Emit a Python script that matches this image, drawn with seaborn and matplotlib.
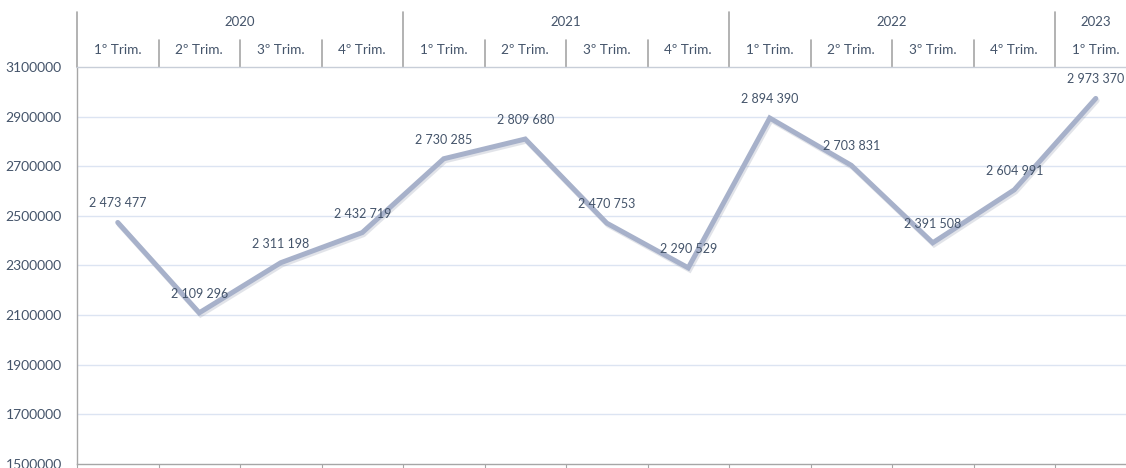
import matplotlib
matplotlib.use("Agg")
import matplotlib.pyplot as plt
import matplotlib.patheffects as pe
import numpy as np
import pandas as pd
import seaborn as sns

# Quarterly series, 2020 Q1 .. 2023 Q1
years = ["2020", "2021", "2022", "2023"]
quarters = ["1º Trim.", "2º Trim.", "3º Trim.", "4º Trim.",
            "1º Trim.", "2º Trim.", "3º Trim.", "4º Trim.",
            "1º Trim.", "2º Trim.", "3º Trim.", "4º Trim.",
            "1º Trim."]
quarters_per_year = [4, 4, 4, 1]
values = [2473477, 2109296, 2311198, 2432719,
          2730285, 2809680, 2470753, 2290529,
          2894390, 2703831, 2391508, 2604991,
          2973370]
y_ticks = [1500000, 1700000, 1900000, 2100000, 2300000,
           2500000, 2700000, 2900000, 3100000]

sns.set_theme(style="white")
plt.rcParams["font.family"] = ["Lato", "DejaVu Sans"]

TEXT = "#44546A"
LINE = "#A7B1CA"
GRID = "#DCE4F2"
AXIS = "#A6A6A6"

W, H, DPI = 1126, 468, 100
fig = plt.figure(figsize=(W / DPI, H / DPI), dpi=DPI)

# plot area in pixels: left 77, top 67, bottom 464, 81.5 px per quarter column
left_px, top_px, bottom_px, col_px = 77, 67, 464, 81.5
n_cols = 13
ax_w = n_cols * col_px
ax_h = bottom_px - top_px
ax = fig.add_axes([left_px / W, (H - bottom_px) / H, ax_w / W, ax_h / H])

df = pd.DataFrame({"pos": np.arange(len(values)), "value": values})
sns.lineplot(data=df, x="pos", y="value", ax=ax, color=LINE, linewidth=3.6,
             solid_joinstyle="miter", zorder=3,
             path_effects=[pe.SimpleLineShadow(offset=(1, -1.5), shadow_color="#8A93A8", alpha=0.25),
                           pe.Normal()])

ax.set_xlim(-0.5, n_cols - 0.5)
ax.set_ylim(y_ticks[0], y_ticks[-1])
ax.set_yticks(y_ticks)
ax.set_yticklabels([str(v) for v in y_ticks], fontsize=10, color=TEXT)
ax.tick_params(axis="y", length=5, width=0.8, color=AXIS, pad=6)
ax.set_xticks(np.arange(n_cols + 1) - 0.5)
ax.set_xticklabels([])
ax.tick_params(axis="x", length=5, width=0.8, color=AXIS, bottom=True)
ax.set_xlabel("")
ax.set_ylabel("")

for v in y_ticks[1:-1]:
    ax.axhline(v, color=GRID, linewidth=1.0, zorder=1)

ax.spines["right"].set_visible(False)
ax.spines["left"].set_color(AXIS)
ax.spines["bottom"].set_color(AXIS)
ax.spines["top"].set_color("#C8CED8")
for s in ["left", "bottom", "top"]:
    ax.spines[s].set_linewidth(1.0)

# value labels centred above each point
for i, v in enumerate(values):
    txt = f"{v:,}".replace(",", " ")
    ax.annotate(txt, (i, v), xytext=(0, 19), textcoords="offset pixels",
                ha="center", va="center", fontsize=9, color=TEXT, zorder=4)

# two-level category header above the plot area
def up(px):
    return 1 + px / ax_h

trans = ax.get_xaxis_transform()
year_starts = np.cumsum([0] + quarters_per_year[:-1])
for start, n, yr in zip(year_starts, quarters_per_year, years):
    x0 = start - 0.5
    ax.plot([x0, x0], [1, up(55)], transform=trans, color=AXIS, lw=1.2, clip_on=False)
    for k in range(1, n):
        xs = x0 + k
        ax.plot([xs, xs], [1, up(27)], transform=trans, color=AXIS, lw=1.2, clip_on=False)
    ax.text(start + (n - 1) / 2, up(45), yr, transform=trans, ha="center", va="center",
            fontsize=9.5, color=TEXT)
ax.plot([n_cols - 0.5, n_cols - 0.5], [1, up(55)], transform=trans, color=AXIS, lw=1.2, clip_on=False)

for i, q in enumerate(quarters):
    ax.text(i, up(17), q, transform=trans, ha="center", va="center",
            fontsize=9.8, color=TEXT)

fig.savefig("out.png", dpi=DPI)
